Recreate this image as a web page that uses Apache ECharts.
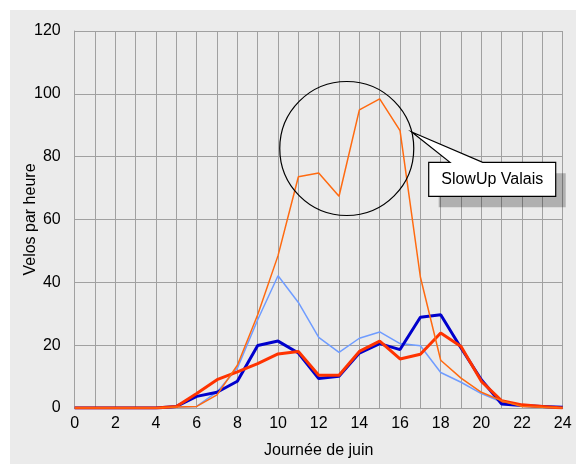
<!DOCTYPE html>
<html>
<head>
<meta charset="utf-8">
<script src="https://cdn.jsdelivr.net/npm/echarts@6/dist/echarts.min.js"></script>
<style>
html,body{margin:0;padding:0;background:#fff;}
#c{position:absolute;left:0;top:0;width:576px;height:464px;
background:linear-gradient(#ebebeb,#ebebeb) 10px 10px / 566px 454px no-repeat,#fff;}
</style>
</head>
<body>
<div id="c"></div>
<script>
const hours = [0,1,2,3,4,5,6,7,8,9,10,11,12,13,14,15,16,17,18,19,20,21,22,23,24];
const xTicks = [0,2,4,6,8,10,12,14,16,18,20,22,24];
const yTicks = [0,20,40,60,80,100,120];
const slowUp = [0,0,0,0,0,0.3,0.5,4.2,13.6,29.7,48.5,73.6,74.8,67.4,94.9,98.4,88.3,41.7,15.2,9.5,5.0,2.3,0.5,0.2,0];
const lightBlue = [0,0,0,0,0,0.3,0.5,5.1,12.7,28.1,42.1,33.6,22.5,17.7,22.2,24.2,20.5,19.8,11.3,8.2,4.6,1.9,0.7,0.3,0];
const darkBlue = [0,0,0,0,0,0.5,3.7,5.0,8.5,19.9,21.3,17.5,9.4,10.1,17.5,20.5,18.6,28.9,29.7,19.1,9.0,1.3,0.8,0.5,0.2];
const redOrange = [0,0,0,0,0,0.5,4.6,9.0,11.5,14.1,17.2,18.0,10.4,10.4,18.0,21.3,15.6,17.1,23.9,19.6,8.5,2.3,1.0,0.5,0];
const calloutText = 'SlowUp Valais';
const circleCenter = [13.38, 82.6];
const boxAnchor = [17.41, 78.2];

const pairs = arr => hours.map((h,i)=>[h,arr[i]]);
const font = 'Liberation Sans, Arial, sans-serif';
const gridColor = '#a0a0a0';

const chart = echarts.init(document.getElementById('c'), null, {renderer:'canvas'});
chart.setOption({
  animation:false,
  backgroundColor:'transparent',
  grid:{left:74.7,top:31,right:13.3,bottom:55.7,containLabel:false},
  xAxis:{type:'value',min:0,max:24,interval:1,
    name:'Journée de juin',nameLocation:'middle',nameGap:35,nameMoveOverlap:false,
    nameTextStyle:{fontFamily:font,fontSize:16,color:'#000'},
    axisLine:{show:true,lineStyle:{color:gridColor,width:1}},
    axisTick:{show:false},
    axisLabel:{fontFamily:font,fontSize:16,color:'#000',margin:8,
      formatter:v=>xTicks.indexOf(v)>=0?String(v):''},
    splitLine:{show:true,lineStyle:{color:gridColor,width:1}}},
  yAxis:{type:'value',min:0,max:120,interval:20,
    name:'Velos par heure',nameLocation:'middle',nameGap:36,nameMoveOverlap:false,
    nameTextStyle:{fontFamily:font,fontSize:16,color:'#000'},
    axisLine:{show:true,lineStyle:{color:gridColor,width:1}},
    axisTick:{show:false},
    axisLabel:{fontFamily:font,fontSize:16,color:'#000',margin:14,
      formatter:v=>yTicks.indexOf(v)>=0?String(v):''},
    splitLine:{show:true,lineStyle:{color:gridColor,width:1}}},
  series:[
    {type:'line',data:pairs(lightBlue),showSymbol:false,lineStyle:{color:'#6f9cff',width:1.5},z:2},
    {type:'line',data:pairs(darkBlue),showSymbol:false,lineStyle:{color:'#0000cc',width:3},z:3},
    {type:'line',data:pairs(redOrange),showSymbol:false,lineStyle:{color:'#ff3300',width:3},z:4},
    {type:'line',data:pairs(slowUp),showSymbol:false,lineStyle:{color:'#ff6a10',width:1.5},z:5}
  ]
});

const c = chart.convertToPixel({gridIndex:0}, circleCenter);
const b = chart.convertToPixel({gridIndex:0}, boxAnchor);
const bw = 127, bh = 34;
const tip = [c[0]+65, c[1]-16.5];
chart.setOption({
  graphic:[
    {type:'circle',shape:{cx:c[0],cy:c[1],r:67},style:{fill:'none',stroke:'#000',lineWidth:1.2},z:100},
    {type:'rect',shape:{x:b[0]+10,y:b[1]+11,width:bw,height:bh},style:{fill:'rgba(0,0,0,0.25)'},z:100},
    {type:'polygon',shape:{points:[[b[0],b[1]],[b[0]+21.3,b[1]],tip,[b[0]+54,b[1]],[b[0]+bw,b[1]],[b[0]+bw,b[1]+bh],[b[0],b[1]+bh]]},
      style:{fill:'#fff',stroke:'#000',lineWidth:1.2},z:101},
    {type:'text',x:b[0]+bw/2,y:b[1]+bh/2,style:{text:calloutText,fontFamily:font,fontSize:16,fill:'#000',align:'center',verticalAlign:'middle'},z:102}
  ]
});
</script>
</body>
</html>
